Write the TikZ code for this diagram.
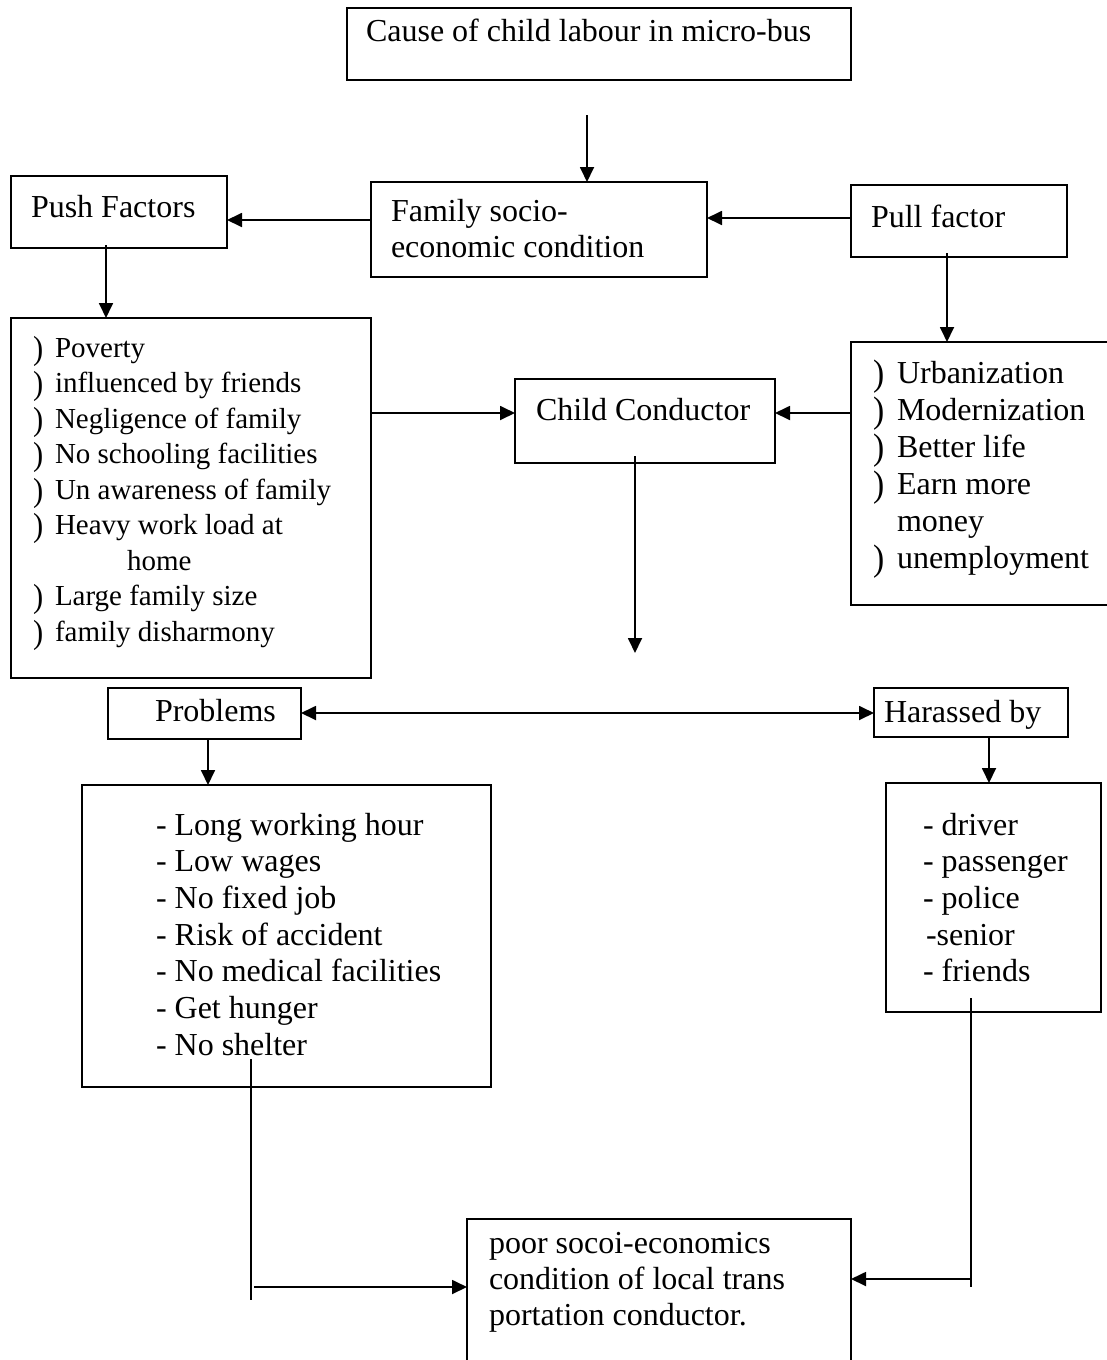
\documentclass[tikz,border=0pt]{standalone}
\usepackage{graphicx}
\usepackage{fontspec}
\setmainfont{Liberation Serif}
\usetikzlibrary{arrows.meta,calc}
\newcommand{\spA}{\spaceskip=8pt\relax}
\newcommand{\spB}{\spaceskip=7.25pt\relax}
\tikzset{
  box/.style={draw, line width=1.8pt, inner sep=0pt, outer sep=0pt, anchor=north west},
  txt/.style={anchor=base west, inner sep=0pt, outer sep=0pt, text width=700pt, align=left, font=\fontsize{32}{36.7}\selectfont, execute at begin node=\spA},
  small/.style={anchor=base west, inner sep=0pt, outer sep=0pt, text width=700pt, align=left, font=\fontsize{29}{35.5}\selectfont, execute at begin node=\spB},
  arr/.style={line width=1.8pt, -{Triangle[length=15pt,width=14pt]}},
  dbl/.style={line width=1.8pt, {Triangle[length=15pt,width=14pt]}-{Triangle[length=15pt,width=14pt]}},
  ln/.style={line width=1.8pt},
}
\newcommand{\bulglyph}{\raisebox{-2pt}{\scalebox{1.05}[1.15]{)}}}
\newcommand{\lbul}{\makebox[22pt][l]{\bulglyph}}
\newcommand{\rbul}{\makebox[24pt][l]{\bulglyph}}
\begin{document}
\begin{tikzpicture}[x=1pt,y=-1pt]
\useasboundingbox (0,0) rectangle (1107,1360);
% boxes
\node[box, minimum width=504pt, minimum height=72pt] (cause) at (347,8) {};
\node[box, minimum width=336pt, minimum height=95pt] (family) at (371,182) {};
\node[box, minimum width=216pt, minimum height=72pt] (push) at (11,176) {};
\node[box, minimum width=216pt, minimum height=72pt] (pull) at (851,185) {};
\node[box, minimum width=360pt, minimum height=360pt] (pushlist) at (11,318) {};
\node[box, minimum width=260pt, minimum height=84pt] (childc) at (515,379) {};
\node[box, minimum width=262pt, minimum height=263pt] (pulllist) at (851,342) {};
\node[box, minimum width=193pt, minimum height=51pt] (problems) at (108,688) {};
\node[box, minimum width=194pt, minimum height=49pt] (harassed) at (874,688) {};
\node[box, minimum width=409pt, minimum height=302pt] (problist) at (82,785) {};
\node[box, minimum width=215pt, minimum height=229pt] (harlist) at (886,783) {};
\node[box, minimum width=384pt, minimum height=150pt] (result) at (467,1219) {};
% texts
\node[txt] (tcause) at (366,41) {Cause of child labour in micro-bus};
\node[txt] (tfamily) at (391,221) {Family socio-\\economic condition};
\node[txt] (tpush) at (31,217) {Push Factors};
\node[txt] (tpull) at (871,227) {Pull factor};
\node[small] (tpushlist) at (33,357) {\lbul Poverty\\
\lbul influenced by friends\\
\lbul Negligence of family\\
\lbul No schooling facilities\\
\lbul Un awareness of family\\
\lbul Heavy work load at\\
\hspace*{94pt}home\\
\lbul Large family size\\
\lbul family disharmony};
\node[txt] (tchildc) at (536,420) {Child Conductor};
\node[txt, font=\fontsize{32}{37}\selectfont] (tpulllist) at (873,383) {\rbul Urbanization\\
\rbul Modernization\\
\rbul Better life\\
\rbul Earn more\\
\hspace*{24pt}money\\
\rbul unemployment};
\node[txt] (tproblems) at (155,721) {Problems};
\node[txt] (tharassed) at (884,722) {Harassed by};
\node[txt] (tproblist) at (156,835) {- Long working hour\\
- Low wages\\
- No fixed job\\
- Risk of accident\\
- No medical facilities\\
- Get hunger\\
- No shelter};
\node[txt] (tharlist) at (923,835) {- driver\\
- passenger\\
- police\\
\hspace*{3pt}-senior\\
- friends};
\node[txt, font=\fontsize{32}{36}\selectfont] (tresult) at (489,1253) {poor socoi-economics\\
condition of local trans\\
portation conductor.};
% connectors
\coordinate (c1) at (587,115);
\draw[arr] (c1) -- (c1 |- family.north);
\draw[arr] ($(family.north west)+(0,38)$) -- ($(push.north east)+(0,44)$);
\draw[arr] ($(pull.north west)+(0,33)$) -- ($(family.north east)+(0,36)$);
\draw[arr] ($(push.south west)+(95,-3)$) -- ($(pushlist.north west)+(95,0)$);
\draw[arr] ($(pull.south west)+(96,-4)$) -- ($(pulllist.north west)+(96,0)$);
\draw[arr] ($(pushlist.north east)+(0,95)$) -- ($(childc.north west)+(0,34)$);
\draw[arr] ($(pulllist.north west)+(0,71)$) -- ($(childc.north east)+(0,34)$);
\coordinate (c3) at (635,653);
\draw[arr] ($(childc.south west)+(120,-7)$) -- (c3);
\draw[dbl] ($(problems.north east)+(0,25)$) -- ($(harassed.north west)+(0,25)$);
\draw[arr] ($(problems.south west)+(100,0)$) -- ($(problist.north west)+(126,0)$);
\draw[arr] ($(harassed.south west)+(115,0)$) -- ($(harlist.north west)+(103,0)$);
\draw[ln] ($(problist.south west)+(169,-28)$) -- ++(0,241);
\draw[arr] ($(result.north west)+(-213,68)$) -- ($(result.north west)+(0,68)$);
\draw[ln] ($(harlist.south west)+(85,-14)$) -- ++(0,289);
\draw[arr] ($(result.north east)+(120,60)$) -- ($(result.north east)+(0,60)$);
\end{tikzpicture}
\end{document}
